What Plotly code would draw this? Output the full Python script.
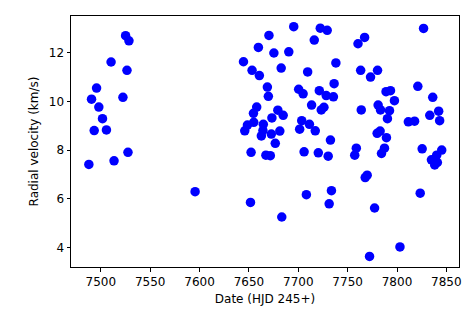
import plotly.graph_objects as go

# HJD - 2450000 dates and radial velocities (km/s)
dates = [
    7487.9, 7490.6, 7493.3, 7495.7, 7498.0, 7501.7, 7505.7, 7510.4, 7513.4, 7522.4,
    7525.1, 7526.5, 7528.5, 7527.5, 7595.5,
    7695.4, 7722.3, 7729.3, 7670.3, 7716.2, 7659.6, 7675.3, 7690.4, 7644.5, 7738.1,
    7682.7, 7653.2, 7660.6, 7709.5, 7736.3, 7668.7, 7669.7, 7700.4, 7704.9, 7721.3,
    7728.3, 7735.6, 7713.5, 7657.9, 7654.6, 7726.0, 7723.3, 7679.3, 7684.7, 7673.3,
    7648.5, 7645.8, 7654.9, 7664.6, 7664.2, 7662.6, 7672.7, 7681.3, 7676.7, 7703.5,
    7711.3, 7701.4, 7717.2, 7732.6, 7652.2, 7667.2, 7671.7, 7705.9, 7720.3, 7730.3,
    7651.6, 7708.2, 7733.6, 7731.3, 7683.3,
    7826.9, 7767.2, 7760.5, 7763.2, 7780.3, 7773.2, 7821.1, 7788.9, 7793.4, 7797.4,
    7836.2, 7763.8, 7780.9, 7783.3, 7792.4, 7790.3, 7811.5, 7817.8, 7833.2, 7842.2,
    7843.2, 7779.9, 7782.9, 7789.3, 7758.8, 7757.2, 7787.3, 7784.3, 7825.5, 7845.3,
    7840.2, 7834.9, 7838.2, 7840.9, 7769.8, 7767.8, 7823.5, 7777.3, 7803.0, 7772.2,
]
rv = [
    7.41, 10.09, 8.80, 10.55, 9.77, 9.29, 8.83, 11.62, 7.56, 10.17,
    12.70, 11.28, 12.49, 7.91, 6.29,
    13.07, 13.01, 12.92, 12.71, 12.52, 12.22, 11.99, 12.04, 11.63, 11.58,
    11.37, 11.28, 11.06, 11.21, 10.73, 10.59, 10.21, 10.50, 10.31, 10.44,
    10.24, 10.19, 9.85, 9.77, 9.51, 9.76, 9.65, 9.64, 9.43, 9.32,
    9.03, 8.79, 9.14, 9.06, 8.80, 8.58, 8.66, 8.78, 8.28, 9.21,
    9.06, 8.86, 8.79, 8.41, 7.91, 7.79, 7.77, 7.93, 7.89, 7.75,
    5.85, 6.17, 6.33, 5.79, 5.25,
    13.00, 12.63, 12.37, 11.28, 11.28, 11.00, 10.62, 10.40, 10.44, 10.03,
    10.17, 9.65, 9.85, 9.65, 9.62, 9.29, 9.16, 9.19, 9.43, 9.60,
    9.21, 8.69, 8.78, 8.51, 8.08, 7.79, 8.08, 7.86, 8.05, 8.00,
    7.79, 7.60, 7.39, 7.49, 6.97, 6.87, 6.23, 5.62, 4.02, 3.63,
]
xticks = [7500, 7550, 7600, 7650, 7700, 7750, 7800, 7850]
yticks = [4, 6, 8, 10, 12]

fig = go.Figure(go.Scatter(x=dates, y=rv, mode="markers",
                           marker=dict(color="#0000ff", size=9.5, line=dict(width=0))))

axis_style = dict(showline=True, linecolor="black", linewidth=1, mirror=True,
                  ticks="outside", ticklen=3.5, tickwidth=1, tickcolor="black",
                  showgrid=False, zeroline=False,
                  tickfont=dict(family="DejaVu Sans", size=12, color="black"))

fig.update_layout(
    width=474, height=316,
    margin=dict(l=71, r=12, t=16, b=49),
    plot_bgcolor="white", paper_bgcolor="white",
    showlegend=False,
    font=dict(family="DejaVu Sans", size=12, color="black"),
    xaxis=dict(range=[7469.8, 7862.8], tickvals=xticks,
               title=dict(text="Date (HJD 245+)", standoff=6,
                          font=dict(family="DejaVu Sans", size=12)),
               **axis_style),
    yaxis=dict(range=[3.196, 13.51], tickvals=yticks,
               title=dict(text="Radial velocity (km/s)", standoff=7,
                          font=dict(family="DejaVu Sans", size=12)),
               **axis_style),
)

fig.write_html("out.html", config={"displayModeBar": False},
               post_script="document.body.style.margin='0';")
